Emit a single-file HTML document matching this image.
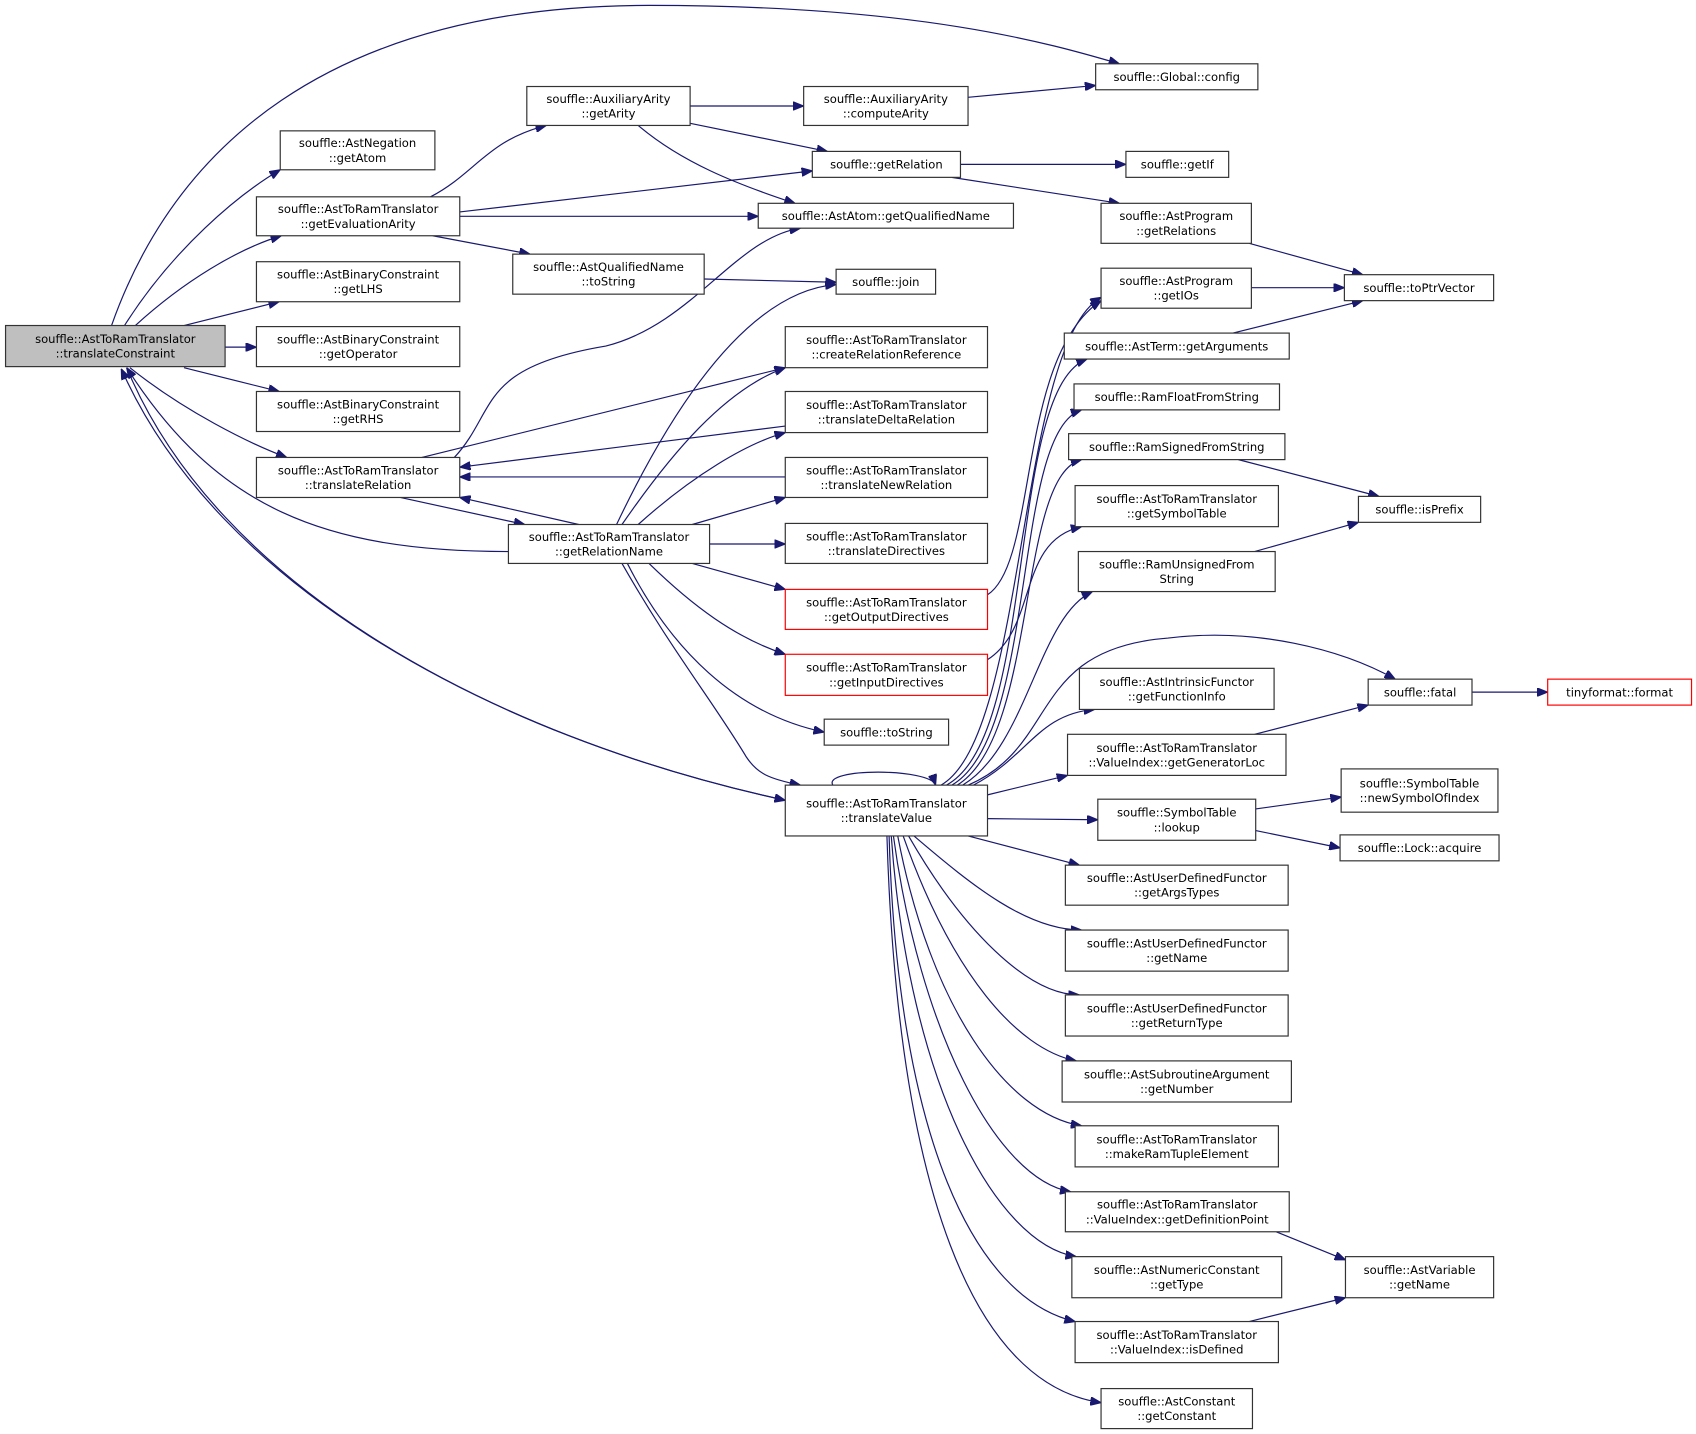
<!DOCTYPE html>
<html><head><meta charset="utf-8">
<style>
html,body{margin:0;padding:0;background:#fff;}
svg{display:block;}
text{font-family:"DejaVu Sans","Liberation Sans",sans-serif;font-size:10.7px;fill:#000;}
</style></head>
<body>
<svg id="g" width="1696" height="1434" viewBox="0 0 1568 1326" xmlns="http://www.w3.org/2000/svg">
<defs><marker id="ah" markerWidth="10" markerHeight="8" refX="10" refY="4" orient="auto" markerUnits="userSpaceOnUse"><path d="M0,0 L10,4 L0,8 Z" fill="#191970" stroke="#191970"/></marker></defs>
<g id="edges"></g><g id="nodes"></g>
</svg>
<script>
const nodeLabels=[
["souffle::AstToRamTranslator\n::translateConstraint",5,301,208,339,"g"],
["souffle::AstNegation\n::getAtom",259,121,402,157],
["souffle::AstToRamTranslator\n::getEvaluationArity",237,182,425,218],
["souffle::AstBinaryConstraint\n::getLHS",237,242,425,279],
["souffle::AstBinaryConstraint\n::getOperator",237,302,425,339],
["souffle::AstBinaryConstraint\n::getRHS",237,362,425,399],
["souffle::AstToRamTranslator\n::translateRelation",237,423,425,460],
["souffle::AuxiliaryArity\n::getArity",487,80,638,116],
["souffle::AstQualifiedName\n::toString",474,235,651,272],
["souffle::AstToRamTranslator\n::getRelationName",470,485,656,521],
["souffle::AuxiliaryArity\n::computeArity",743,80,895,116],
["souffle::getRelation",751,140,888,164],
["souffle::AstAtom::getQualifiedName",701,188,937,211],
["souffle::join",773,249,865,272],
["souffle::AstToRamTranslator\n::createRelationReference",726,302,913,340],
["souffle::AstToRamTranslator\n::translateDeltaRelation",726,362,913,400],
["souffle::AstToRamTranslator\n::translateNewRelation",726,423,913,460],
["souffle::AstToRamTranslator\n::translateDirectives",726,484,913,521],
["souffle::AstToRamTranslator\n::getOutputDirectives",726,545,913,582,"r"],
["souffle::AstToRamTranslator\n::getInputDirectives",726,605,913,643,"r"],
["souffle::toString",762,665,877,689],
["souffle::AstToRamTranslator\n::translateValue",726,726,913,773],
["souffle::Global::config",1013,59,1163,83],
["souffle::getIf",1041,140,1136,164],
["souffle::AstProgram\n::getRelations",1018,188,1157,225],
["souffle::AstProgram\n::getIOs",1018,248,1157,285],
["souffle::AstTerm::getArguments",984,308,1192,332],
["souffle::RamFloatFromString",993,355,1183,379],
["souffle::RamSignedFromString",988,401,1188,425],
["souffle::AstToRamTranslator\n::getSymbolTable",994,449,1182,487],
["souffle::RamUnsignedFrom\nString",997,510,1179,547],
["souffle::AstIntrinsicFunctor\n::getFunctionInfo",998,618,1178,656],
["souffle::AstToRamTranslator\n::ValueIndex::getGeneratorLoc",987,679,1189,717],
["souffle::SymbolTable\n::lookup",1015,739,1161,777],
["souffle::AstUserDefinedFunctor\n::getArgsTypes",985,800,1191,837],
["souffle::AstUserDefinedFunctor\n::getName",985,860,1191,898],
["souffle::AstUserDefinedFunctor\n::getReturnType",985,920,1191,958],
["souffle::AstSubroutineArgument\n::getNumber",982,981,1194,1019],
["souffle::AstToRamTranslator\n::makeRamTupleElement",994,1041,1182,1079],
["souffle::AstToRamTranslator\n::ValueIndex::getDefinitionPoint",985,1102,1192,1139],
["souffle::AstNumericConstant\n::getType",991,1162,1185,1200],
["souffle::AstToRamTranslator\n::ValueIndex::isDefined",994,1222,1182,1260],
["souffle::AstConstant\n::getConstant",1018,1284,1158,1321],
["souffle::toPtrVector",1243,254,1381,278],
["souffle::isPrefix",1256,459,1369,483],
["souffle::fatal",1265,628,1361,652],
["tinyformat::format",1431,628,1564,652,"r"],
["souffle::SymbolTable\n::newSymbolOfIndex",1240,711,1385,751],
["souffle::Lock::acquire",1239,772,1386,796],
["souffle::AstVariable\n::getName",1244,1162,1381,1200]
];
const edgePaths=[
"M103,301 C160,140 300,5 600,5 C850,5 970,40 1035,59",
"M115,301 C160,230 220,180 259,157",
"M125,301 C170,260 220,230 260,218",
"M170,301 L258,279","M208,321 L237,321","M170,340 L258,362",
"M120,340 C170,380 230,410 265,423",
"M470,510 C300,510 200,470 117,340",
"M117,340 C200,540 450,680 726,740",
"M726,740 C450,680 200,540 112,341",
"M398,182 C440,160 450,130 505,116","M425,196 L751,158","M425,200 L701,200","M400,218 L490,235",
"M638,98 L743,98","M638,114 L765,140","M590,116 C630,150 680,170 735,188",
"M895,90 L1013,79","M888,152 L1041,152","M880,164 L1035,188",
"M1155,225 L1260,254","M1157,266 L1243,266","M1140,308 L1260,278","M651,258 L773,261",
"M420,423 C460,380 440,340 560,320 C640,300 680,220 740,211",
"M390,423 L726,340","M370,460 L485,485",
"M726,394 L425,432","M726,441 L425,441","M535,485 L425,460",
"M570,485 C620,380 690,270 773,263","M575,485 C620,420 670,360 726,340",
"M590,485 C640,440 690,410 726,400","M640,485 L726,460","M656,503 L726,503",
"M640,521 L726,545","M600,521 C640,560 680,590 726,605","M580,521 C620,600 680,660 762,677",
"M575,521 C620,600 660,650 690,700 C700,715 710,720 740,726",
"M913,550 C960,520 940,330 1018,278","M913,610 C960,580 940,500 1000,487",
"M770,726 C760,710 860,710 865,726",
"M870,726 C950,680 940,320 1018,275","M875,726 C960,680 930,360 1005,332",
"M880,726 C960,680 935,400 1000,379","M885,726 C960,680 940,440 1000,425",
"M890,726 C950,690 960,570 1010,547",
"M895,726 C980,690 950,600 1080,590 C1160,580 1240,600 1290,628",
"M900,726 C950,700 960,660 1012,656","M913,735 L987,717","M913,757 L1015,758",
"M895,773 L998,800","M845,773 C900,820 950,860 1000,860","M840,773 C890,860 950,920 998,920",
"M835,773 C880,900 940,970 995,981","M830,773 C860,930 930,1030 1000,1041",
"M826,773 C850,950 920,1090 990,1102","M824,773 C840,1000 920,1150 995,1162",
"M822,773 C830,1050 900,1200 994,1222","M820,773 C830,1100 900,1280 1018,1297",
"M1160,679 L1265,652","M1361,640 L1431,640","M1161,748 L1240,737","M1161,768 L1239,784",
"M1145,425 L1275,459","M1160,510 L1256,483","M1180,1139 L1244,1165","M1155,1222 L1244,1200"
];
const NS="http://www.w3.org/2000/svg";
const eg=document.getElementById('edges'), ng=document.getElementById('nodes');
edgePaths.forEach(d=>{
  const p=document.createElementNS(NS,'path');
  p.setAttribute('d',d);p.setAttribute('fill','none');p.setAttribute('stroke','#191970');p.setAttribute('stroke-width','1.1');p.setAttribute('marker-end','url(#ah)');
  
  
  eg.appendChild(p);
});
nodeLabels.forEach(n=>{
  const [lab,x1,y1,x2,y2,k]=n;
  const g=document.createElementNS(NS,'g');
  
  
  const r=document.createElementNS(NS,'rect');
  r.setAttribute('x',x1);r.setAttribute('y',y1);r.setAttribute('width',x2-x1);r.setAttribute('height',y2-y1);
  r.setAttribute('fill',k==='g'?'#bfbfbf':'#fff');r.setAttribute('stroke',k==='r'?'#ff0000':'#333');r.setAttribute('stroke-width','1.1');
  g.appendChild(r);
  const lines=lab.split('\n');const cy=(y1+y2)/2;
  lines.forEach((l,i)=>{
    const t=document.createElementNS(NS,'text');
    t.setAttribute('x',(x1+x2)/2);t.setAttribute('y',cy+(i-(lines.length-1)/2)*13.5+3.9);
    t.setAttribute('text-anchor','middle');t.textContent=l;g.appendChild(t);
  });
  ng.appendChild(g);
});
</script>
</body></html>
